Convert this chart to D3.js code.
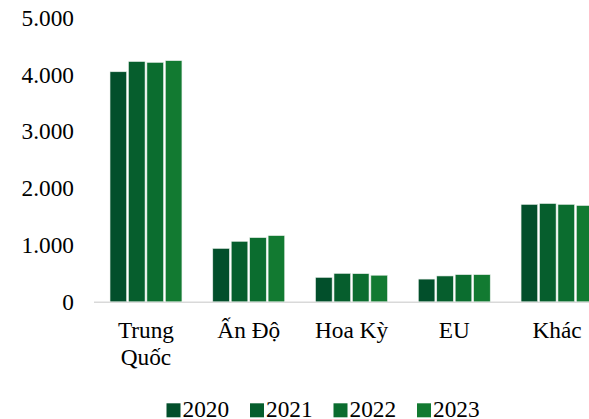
<!DOCTYPE html>
<html>
<head>
<meta charset="utf-8">
<script src="https://cdn.jsdelivr.net/npm/d3@7"></script>
<style>
  html, body { margin: 0; padding: 0; background: #fff; }
  svg { display: block; }
  svg text { font-family: "Times New Roman", "Liberation Serif", "DejaVu Serif", serif !important; fill: #000; }
</style>
</head>
<body>
<div id="chart"></div>
<script>
// Categories (x axis) and yearly series
const categories = [["Trung", "Quốc"], ["Ấn Độ"], ["Hoa Kỳ"], ["EU"], ["Khác"]];
const years = ["2020", "2021", "2022", "2023"];
const v2020 = [4050, 940, 430, 400, 1715];
const v2021 = [4230, 1065, 500, 455, 1730];
const v2022 = [4215, 1130, 495, 478, 1715];
const v2023 = [4245, 1165, 468, 478, 1695];
const yTicks = [0, 1000, 2000, 3000, 4000, 5000];
const colors = ["#024f2b", "#065e2d", "#0b6d2f", "#127a31"];

const series = [v2020, v2021, v2022, v2023];
const W = 589, H = 419;
const FS = 23.3;
const FONT = "'Times New Roman', 'Liberation Serif', 'DejaVu Serif', serif";
const svg = d3.select("#chart").append("svg").attr("width", W).attr("height", H)
  .attr("font-family", FONT);

const catKeys = categories.map(c => c.join(" "));
const x = d3.scaleBand().domain(catKeys).range([94.6, 608.4]).paddingInner(0.3).paddingOuter(0.15);
const xInner = d3.scaleBand().domain(years).range([0, x.bandwidth()]).paddingInner(0.1);
const y = d3.scaleLinear().domain([0, 5000]).range([301.8, 17.8]);

// y axis labels (no line)
const fmt = d => d3.format(",")(d).replace(/,/g, ".");
const yAxis = svg.append("g").attr("transform", "translate(74,0)")
  .call(d3.axisLeft(y).tickValues(yTicks).tickFormat(fmt).tickSize(0).tickPadding(0));
yAxis.attr("font-family", FONT);
yAxis.select(".domain").remove();
yAxis.selectAll("text").attr("font-size", FS).attr("fill", "#000");

// baseline
svg.append("line").attr("x1", 94).attr("x2", 610).attr("y1", y(0) + 0.5).attr("y2", y(0) + 0.5)
  .attr("stroke", "#d9d9d9").attr("stroke-width", 1.5);

// bars
const groups = svg.append("g").selectAll("g").data(catKeys).join("g")
  .attr("transform", d => `translate(${x(d)},0)`);
groups.selectAll("rect").data((d, i) => years.map((yr, j) => ({ yr, j, v: series[j][i] })))
  .join("rect")
  .attr("x", d => xInner(d.yr))
  .attr("width", xInner.bandwidth())
  .attr("y", d => y(d.v))
  .attr("height", d => y(0) - y(d.v))
  .attr("fill", d => colors[d.j])
  .attr("stroke", "#e6ede8").attr("stroke-width", 0.6);

// category labels
const labels = svg.append("g").selectAll("text").data(categories).join("text")
  .attr("x", (d, i) => x(catKeys[i]) + x.bandwidth() / 2)
  .attr("y", 338)
  .attr("text-anchor", "middle")
  .attr("font-size", FS);
labels.selectAll("tspan").data(d => d).join("tspan")
  .attr("x", function () { return d3.select(this.parentNode).attr("x"); })
  .attr("dy", (d, i) => i === 0 ? 0 : 27)
  .text(d => d);

// legend
const leg = svg.append("g").selectAll("g").data(years).join("g")
  .attr("transform", (d, i) => `translate(${166.5 + i * 83.5},403.3)`);
leg.append("rect").attr("width", 14).attr("height", 14).attr("fill", (d, i) => colors[i]);
leg.append("text").attr("x", 16).attr("y", 13.6).attr("font-size", FS).text(d => d);
</script>
</body>
</html>
